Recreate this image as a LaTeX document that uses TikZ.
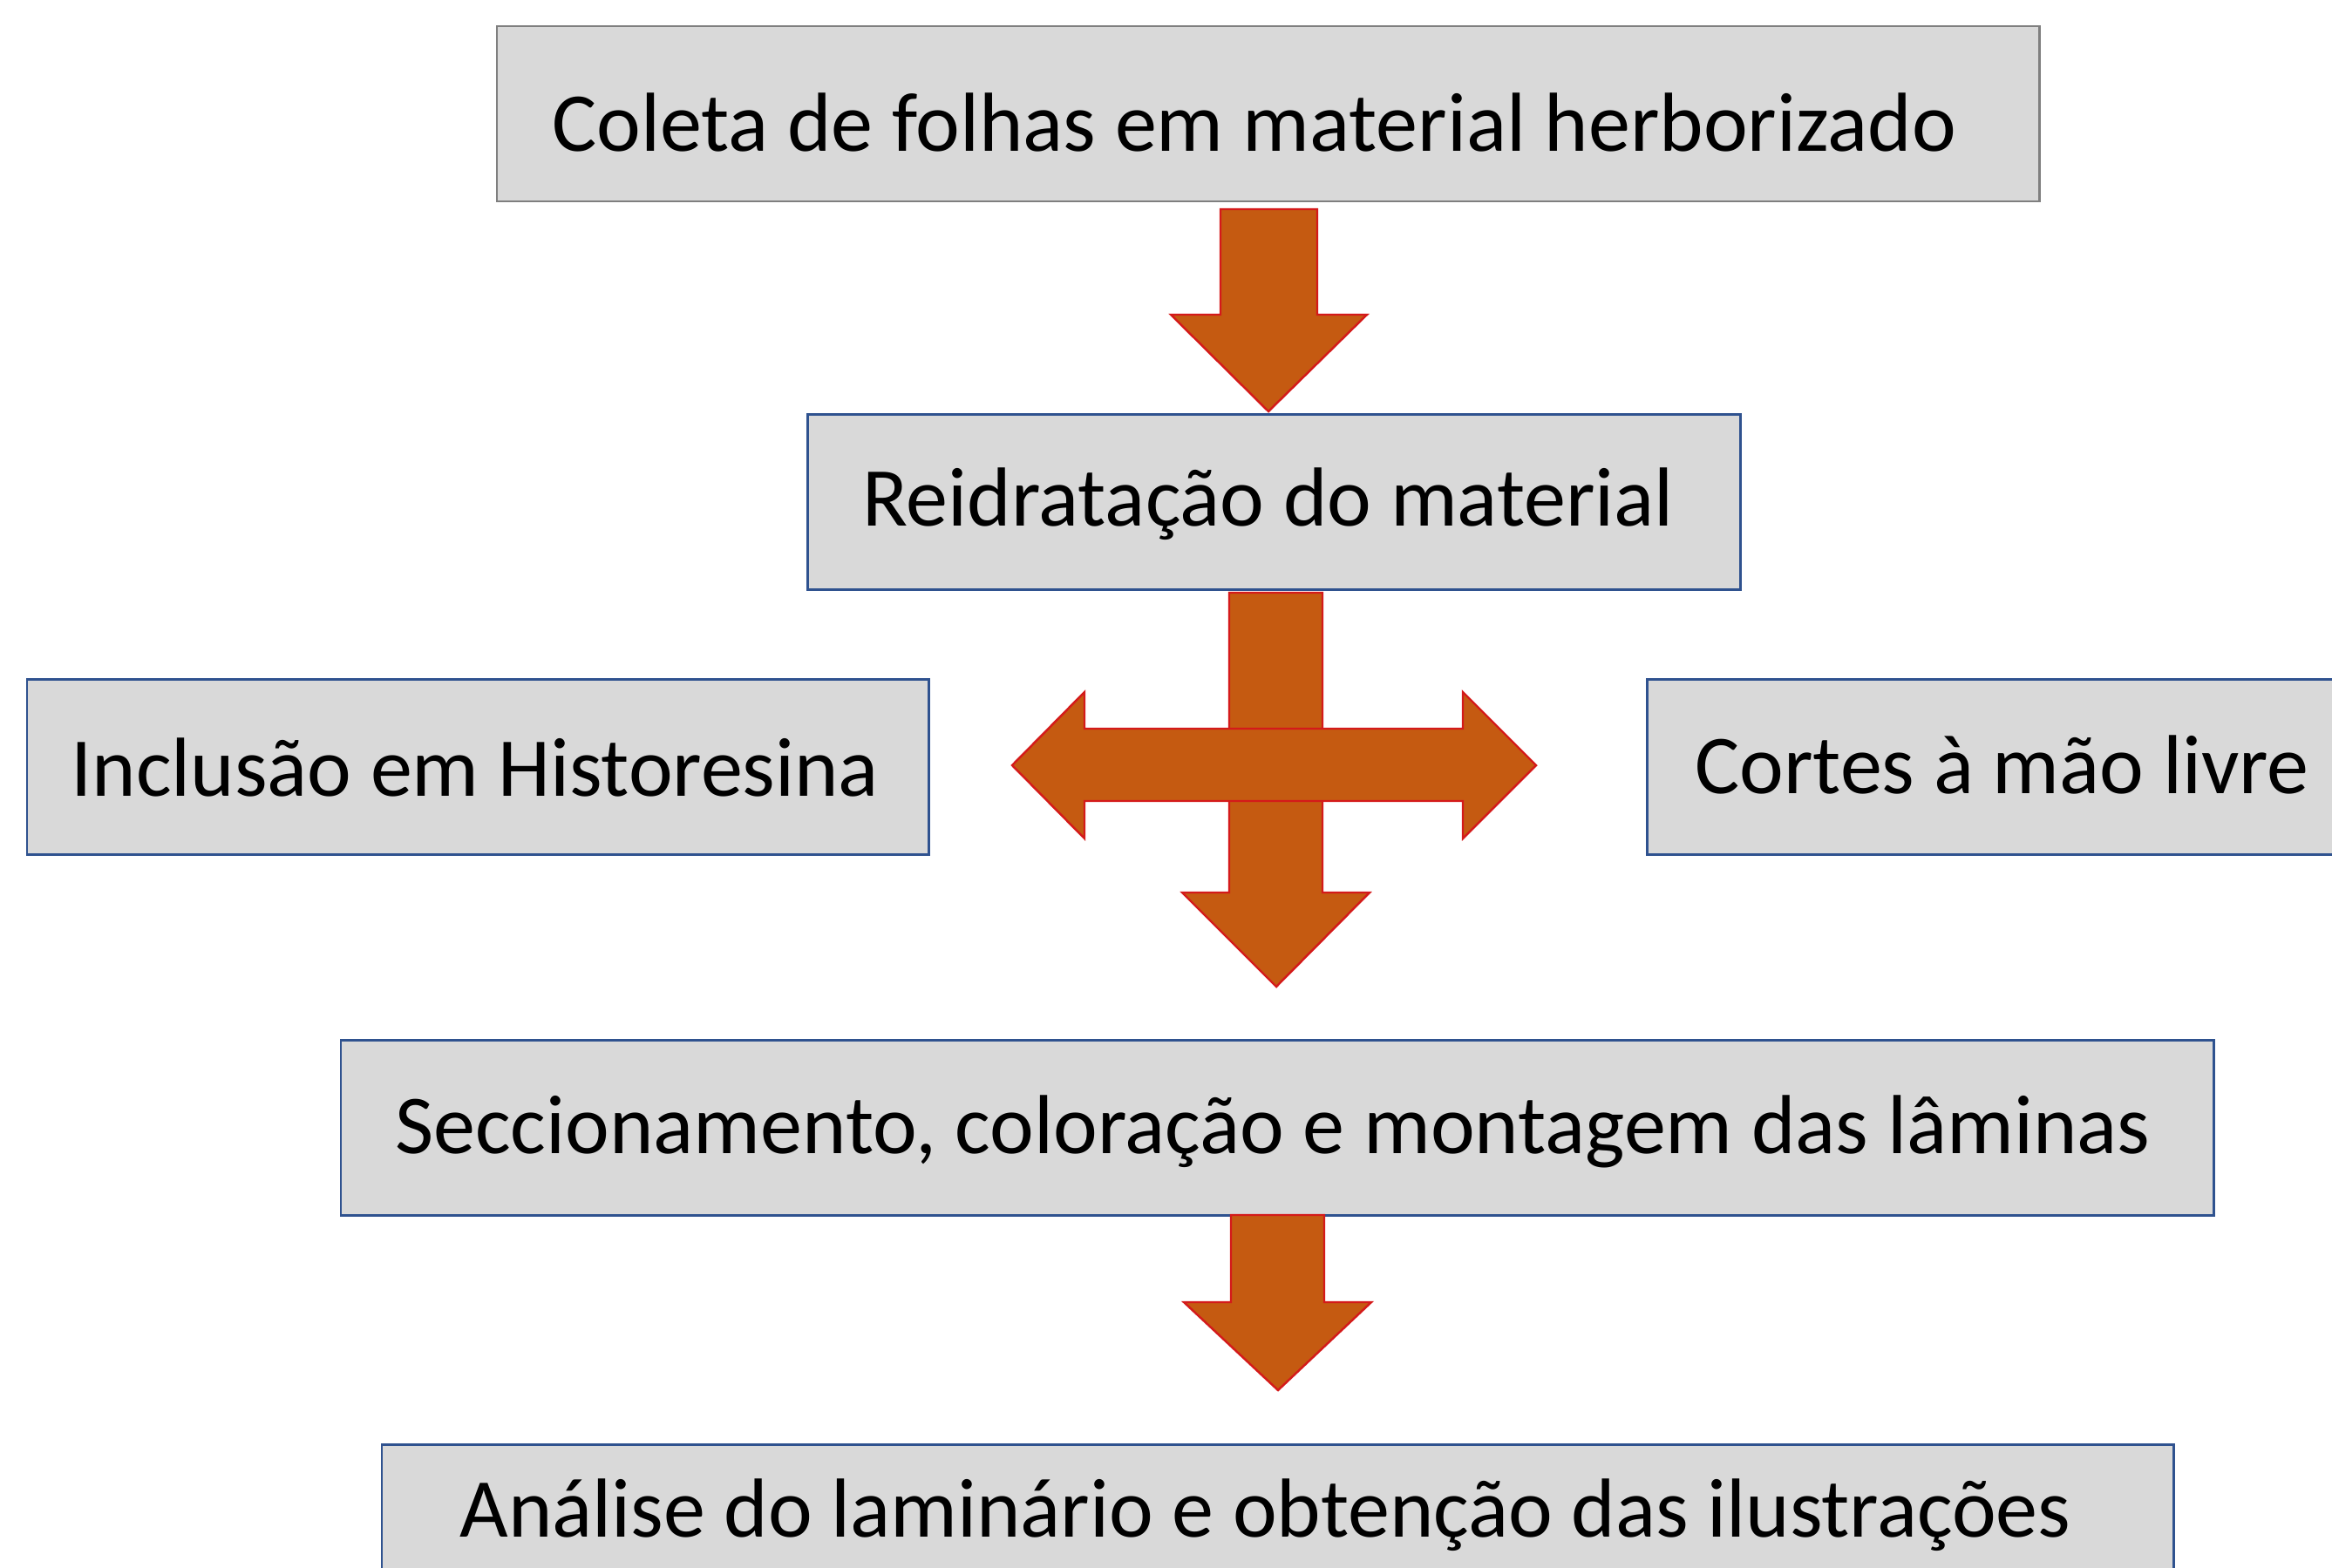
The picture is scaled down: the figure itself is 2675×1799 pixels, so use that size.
\documentclass[tikz,border=0pt]{standalone}
\usepackage{fontspec}
\setmainfont{Carlito}
\definecolor{boxfill}{HTML}{D9D9D9}
\definecolor{boxblue}{HTML}{2F528F}
\definecolor{boxgray}{HTML}{7F7F7F}
\definecolor{arrfill}{HTML}{C55A11}
\definecolor{arrline}{HTML}{D41A1A}
\begin{document}
\begin{tikzpicture}[x=0.02cm,y=-0.02cm,
  box/.style={draw=boxblue,fill=boxfill,line width=1.7pt},
  graybox/.style={draw=boxgray,fill=boxfill,line width=1.7pt},
  lbl/.style={anchor=base west,inner sep=0pt,font=\fontsize{54.7}{66}\selectfont},
  blockarrow/.style={fill=arrfill,draw=arrline,line width=1.4pt,line join=miter}]
\useasboundingbox (0,0) rectangle (2675,1799);
\clip (0,0) rectangle (2675,1799);
% boxes
\draw[graybox] (570,30) rectangle (2339,231);
\draw[box] (926,475) rectangle (1996,676);
\draw[box] (31,779) rectangle (1065,980);
\draw[box] (1889,779) rectangle (2720,980);
\draw[box] (391,1193) rectangle (2539,1394);
\draw[box] (438,1657) rectangle (2493,1850);
% texts
\node[lbl] (t1) at (633,173) {Coleta de folhas em material herborizado};
\node[lbl] (t2) at (989,603) {Reidratação do material};
\node[lbl] (t3) at (81,913) {Inclusão em Historesina};
\node[lbl] (t4) at (1944,910) {Cortes à mão livre};
\node[lbl] (t5) at (453,1323) {Seccionamento, coloração e montagem das lâminas};
\node[lbl] (t6) at (527,1763) {Análise do laminário e obtenção das ilustrações};
% arrow 1
\draw[blockarrow] (1400,240) -- (1511,240) -- (1511,361) -- (1568,361) -- (1455,472)
  -- (1343,361) -- (1400,361) -- cycle;
% cross: down arrow
\draw[blockarrow] (1410,680) -- (1517,680) -- (1517,1024) -- (1571,1024) -- (1464,1132)
  -- (1356,1024) -- (1410,1024) -- cycle;
% cross: left-right arrow
\draw[blockarrow] (1161,878) -- (1244,794) -- (1244,836) -- (1678,836) -- (1678,794)
  -- (1762,878) -- (1678,962) -- (1678,919) -- (1244,919) -- (1244,962) -- cycle;
% arrow 3
\draw[blockarrow] (1412,1394) -- (1519,1394) -- (1519,1494) -- (1573,1494) -- (1466,1595)
  -- (1358,1494) -- (1412,1494) -- cycle;
\end{tikzpicture}
\end{document}
